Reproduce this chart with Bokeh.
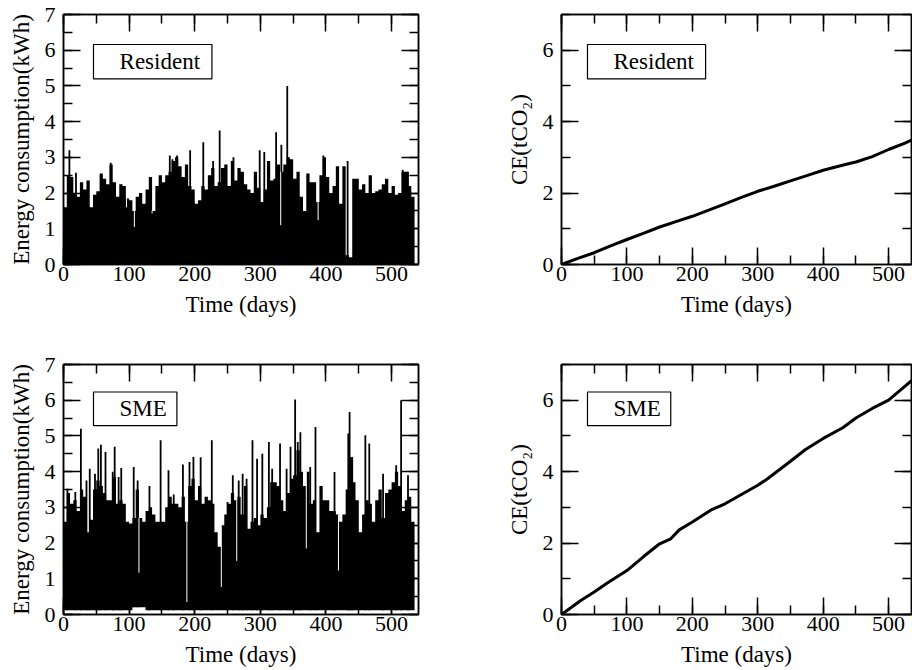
from bokeh.plotting import figure
from bokeh.layouts import column, row
from bokeh.models import LinearAxis, SingleIntervalTicker, Range1d
from bokeh.embed import file_html
from bokeh.resources import INLINE
from bokeh.core.properties import value

FONT = "Liberation Serif"

# ---------------- data ----------------
BIN = 5  # days per bin (bins start at day 0, 5, 10, ...)

# Resident: upper envelope of consumption per 5-day bin (kWh)
res_peak = [
    1.6, 2.5, 2.45, 2.0, 1.9, 2.3, 2.1, 2.35, 1.6, 1.95,
    2.05, 2.55, 2.4, 2.25, 2.8, 2.3, 1.9, 2.25, 2.2, 1.85,
    1.8, 1.5, 1.9, 2.0, 1.7, 2.1, 2.45, 1.5, 2.2, 2.5,
    2.3, 2.5, 2.6, 2.9, 3.0, 2.75, 2.45, 2.8, 2.2, 2.1,
    1.7, 1.8, 2.2, 2.1, 2.5, 2.7, 2.2, 2.3, 2.7, 2.8,
    2.2, 2.9, 2.35, 2.7, 2.6, 2.25, 2.1, 2.0, 2.6, 2.15,
    1.75, 2.1, 2.9, 2.35, 2.4, 2.8, 2.6, 2.8, 3.0, 2.95,
    2.4, 2.6, 1.9, 1.5, 2.55, 2.3, 2.3, 1.75, 2.5, 3.0,
    2.45, 2.0, 2.2, 2.75, 1.7, 2.75, 0.26, 0.2, 2.4, 2.4,
    2.1, 2.25, 2.0, 2.5, 2.0, 2.05, 2.1, 2.25, 2.4, 2.0,
    2.2, 1.95, 2.0, 2.6, 2.6, 2.2, 1.9,
]
res_spike_day = [9, 19, 72, 162, 166, 173, 193, 213, 228, 238, 259, 299, 306,
                 324, 332, 341, 396, 433, 517, 525]
res_spike_val = [3.2, 2.57, 2.85, 3.05, 2.95, 3.05, 3.2, 3.42, 2.9, 3.75, 3.0,
                 3.2, 3.15, 3.7, 3.35, 5.0, 3.05, 2.9, 2.65, 2.6]
res_dip_day = [96, 108, 135, 203, 331, 388]
res_dip_val = [1.6, 1.05, 1.43, 1.7, 1.1, 1.24]
res_floor_day = [0]
res_floor_val = [0.0]

# SME: upper envelope of consumption per 5-day bin (kWh)
sme_peak = [
    2.6, 3.4, 3.1, 3.2, 2.9, 3.5, 3.3, 2.3, 2.65, 3.5,
    3.75, 3.6, 3.4, 3.2, 3.2, 3.85, 3.1, 3.2, 3.1, 2.6,
    2.55, 2.7, 3.5, 2.7, 2.6, 2.9, 3.0, 2.8, 2.6, 2.6,
    2.6, 3.0, 3.3, 3.1, 3.1, 3.0, 3.3, 2.6, 3.6, 3.8,
    3.2, 3.6, 3.1, 3.3, 3.2, 3.1, 2.3, 1.9, 2.5, 2.8,
    3.1, 3.4, 3.2, 3.3, 2.8, 3.6, 2.4, 2.6, 2.7, 2.5,
    2.8, 2.7, 3.0, 3.7, 3.7, 3.6, 3.2, 2.9, 3.4, 3.8,
    3.9, 4.6, 4.0, 3.6, 4.0, 3.1, 3.2, 2.3, 3.6, 3.2,
    3.2, 2.9, 2.9, 2.8, 2.6, 2.8, 3.5, 4.4, 3.7, 3.2,
    2.3, 2.8, 3.2, 3.1, 2.6, 3.2, 3.5, 2.7, 3.4, 3.5,
    3.7, 4.0, 3.6, 2.9, 3.2, 3.3, 2.6,
]
sme_spike_day = [6, 18, 26.5, 35, 40, 48, 53, 57, 64, 75, 78, 84, 88, 107, 113,
                 131, 148, 160, 168, 182, 192, 198, 209, 226, 250, 258, 267, 273,
                 279, 288, 295, 303, 313, 318, 330, 340, 346, 353, 357, 361, 376,
                 384, 413, 434, 436, 440, 460, 466, 487, 507, 514.5, 525]
sme_spike_val = [3.52, 3.43, 5.2, 3.75, 4.08, 3.94, 4.65, 4.75, 4.55, 4.0, 4.7,
                 3.85, 4.1, 4.13, 3.75, 3.6, 4.88, 4.04, 3.36, 4.2, 4.27, 4.41,
                 4.4, 4.88, 3.15, 3.9, 3.75, 3.94, 3.8, 4.88, 4.36, 4.5, 4.83,
                 4.08, 4.79, 4.08, 4.7, 6.02, 4.83, 5.1, 4.13, 5.25, 3.99, 5.07,
                 5.67, 4.41, 5.02, 4.79, 3.94, 4.18, 6.0, 3.9]
sme_dip_day = [115, 188, 240.5, 264, 370, 419]
sme_dip_val = [1.17, 0.35, 0.77, 1.5, 1.85, 1.23]
sme_floor_day = [0, 102, 125]
sme_floor_val = [0.12, 0.2, 0.12]

# Cumulative carbon emission (tCO2)
res_ce_day = [0, 25, 50, 75, 100, 125, 150, 175, 200, 225, 250, 275, 300, 325,
              350, 375, 400, 425, 440, 450, 475, 500, 525, 536]
res_ce_val = [0, 0.17, 0.33, 0.52, 0.70, 0.87, 1.05, 1.20, 1.35, 1.52, 1.70,
              1.88, 2.05, 2.19, 2.34, 2.49, 2.64, 2.76, 2.83, 2.87, 3.02, 3.22,
              3.40, 3.49]
sme_ce_day = [0, 30, 50, 70, 100, 126, 150, 167, 180, 200, 228, 250, 275, 300,
              315, 335, 350, 373, 400, 430, 450, 475, 500, 518, 536]
sme_ce_val = [0, 0.40, 0.63, 0.88, 1.23, 1.63, 1.98, 2.12, 2.37, 2.59, 2.92,
              3.10, 3.36, 3.62, 3.80, 4.08, 4.29, 4.62, 4.93, 5.23, 5.50, 5.77,
              6.0, 6.28, 6.56]

X_TITLE = "Time (days)"
Y_TITLE_E = "Energy consumption(kWh)"
Y_TITLE_C = "CE(tCO₂)"


def floor_at(d, fdays, fvals):
    v = fvals[0]
    for fd, fv in zip(fdays, fvals):
        if d >= fd:
            v = fv
    return v


def make_fig(xmax, y_int, ylabel, w, h, bl, br, bt, bb):
    p = figure(width=w, height=h, x_range=Range1d(0, xmax), y_range=Range1d(0, 7),
               output_backend="svg", toolbar_location=None,
               min_border_left=bl, min_border_right=br,
               min_border_top=bt, min_border_bottom=bb)
    p.xgrid.visible = False
    p.ygrid.visible = False
    p.outline_line_color = "black"
    p.outline_line_width = 1.5
    p.background_fill_color = "white"
    p.border_fill_color = "white"
    p.add_layout(LinearAxis(), "above")
    p.add_layout(LinearAxis(), "right")
    for ax in list(p.xaxis) + list(p.yaxis):
        ax.major_tick_in = 17
        ax.major_tick_out = 0
        ax.minor_tick_in = 9
        ax.minor_tick_out = 0
        ax.major_tick_line_width = 1.5
        ax.minor_tick_line_width = 1.5
        ax.major_tick_line_color = "black"
        ax.minor_tick_line_color = "black"
        ax.axis_line_width = 1.5
        ax.axis_line_color = "black"
        ax.major_label_text_font = FONT
        ax.major_label_text_font_size = "22px"
        ax.major_label_text_color = "black"
        ax.axis_label_text_font = FONT
        ax.axis_label_text_font_size = "23px"
        ax.axis_label_text_font_style = "normal"
        ax.axis_label_text_color = "black"
    for ax in p.xaxis:
        ax.ticker = SingleIntervalTicker(interval=100, num_minor_ticks=2)
    for ax in p.yaxis:
        ax.ticker = SingleIntervalTicker(interval=y_int, num_minor_ticks=2)
    # mirror axes: ticks only, no labels drawn
    for ax in (p.above[0], p.right[0]):
        ax.major_label_text_font_size = "0px"
        ax.major_label_text_color = None
        ax.major_label_standoff = 0
        ax.axis_label = None
    p.below[0].axis_label = X_TITLE
    p.below[0].major_label_standoff = 2
    p.below[0].axis_label_standoff = 8
    p.left[0].axis_label = ylabel
    p.left[0].major_label_standoff = 8
    p.left[0].axis_label_standoff = 8
    return p


def draw_series(p, peak, fdays, fvals, sp_day, sp_val, dip_day, dip_val):
    starts = [i * BIN for i in range(len(peak))]
    floors = [floor_at(d, fdays, fvals) for d in starts]
    xs = starts + [len(peak) * BIN]
    y2 = peak + [peak[-1]]
    y1 = floors + [floors[-1]]
    if hasattr(p, "varea_step"):
        p.varea_step(x=xs, y1=y1, y2=y2, step_mode="after", fill_color="black")
    else:
        p.quad(left=starts, right=[s + BIN for s in starts], bottom=floors, top=peak,
               fill_color="black", line_color="black", line_width=0.6)
    p.segment(x0=sp_day, y0=[floor_at(d, fdays, fvals) for d in sp_day],
              x1=sp_day, y1=sp_val, line_color="black", line_width=1.8)
    tops = [peak[min(int(d // BIN), len(peak) - 1)] for d in dip_day]
    p.segment(x0=dip_day, y0=dip_val, x1=dip_day, y1=tops,
              line_color="white", line_width=1.0)


def legend_box(p, left, right, bottom, top, tx, label):
    p.quad(left=[left], right=[right], bottom=[bottom], top=[top],
           fill_color="white", line_color="black", line_width=1.2)
    p.text(x=[tx], y=[(bottom + top) / 2], text=[label], text_font=value(FONT),
           text_font_size="23px", text_baseline="middle", text_color="black")


# top-left
tl = make_fig(541, 1, Y_TITLE_E, 480, 350, 63, 62, 14, 86)
draw_series(tl, res_peak, res_floor_day, res_floor_val, res_spike_day, res_spike_val,
            res_dip_day, res_dip_val)
legend_box(tl, 45.7, 226.2, 5.20, 6.16, 85.4, "Resident")

# top-right
tr = make_fig(535, 2, Y_TITLE_C, 432, 350, 81, 1, 14, 86)
tr.line(res_ce_day, res_ce_val, line_color="black", line_width=3)
legend_box(tr, 39.7, 220.3, 5.20, 6.16, 79.5, "Resident")

# bottom-left
bl = make_fig(541, 1, Y_TITLE_E, 480, 320, 63, 62, 14, 56)
draw_series(bl, sme_peak, sme_floor_day, sme_floor_val, sme_spike_day, sme_spike_val,
            sme_dip_day, sme_dip_val)
legend_box(bl, 45.7, 172.8, 5.29, 6.23, 85.4, "SME")

# bottom-right
br = make_fig(535, 2, Y_TITLE_C, 432, 320, 81, 1, 14, 56)
br.line(sme_ce_day, sme_ce_val, line_color="black", line_width=3)
legend_box(br, 39.7, 167.0, 5.29, 6.23, 79.5, "SME")

layout = column(row(tl, tr), row(bl, br))
open("out.html", "w").write(file_html(layout, INLINE))
